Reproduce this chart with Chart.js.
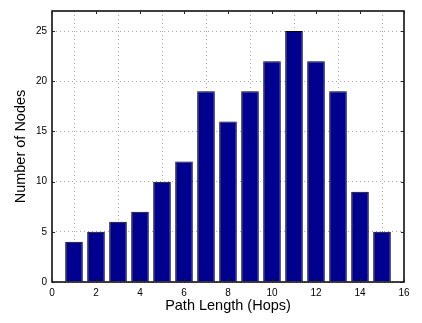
<!DOCTYPE html>
<html>
<head>
<meta charset="utf-8">
<script src="https://cdn.jsdelivr.net/npm/chart.js@4"></script>
<style>
html,body{margin:0;padding:0;background:#fff;}
#wrap{width:422px;height:323px;position:relative;}
</style>
</head>
<body>
<div id="wrap"><canvas id="c" width="422" height="323"></canvas></div>
<script>
const pathLengths = [1,2,3,4,5,6,7,8,9,10,11,12,13,14,15];
const nodeCounts = [4,5,6,7,10,12,19,16,19,22,25,22,19,9,5];
const xTicks = [0,2,4,6,8,10,12,14,16];
const yTicks = [0,5,10,15,20,25];
const xLabel = 'Path Length (Hops)';
const yLabel = 'Number of Nodes';

const frame = {
  id: 'frame',
  afterDraw(chart) {
    const {ctx, chartArea: a, scales: {x, y}} = chart;
    ctx.save();
    ctx.strokeStyle = '#000';
    ctx.lineWidth = 1.5;
    ctx.strokeRect(a.left, a.top, a.right - a.left, a.bottom - a.top);
    ctx.lineWidth = 1;
    ctx.strokeStyle = '#222';
    ctx.beginPath();
    xTicks.forEach(v => {
      const px = Math.round(x.getPixelForValue(v)) + 0.5;
      ctx.moveTo(px, a.bottom); ctx.lineTo(px, a.bottom - 3);
      ctx.moveTo(px, a.top); ctx.lineTo(px, a.top + 3);
    });
    yTicks.forEach(v => {
      const py = Math.round(y.getPixelForValue(v)) + 0.5;
      ctx.moveTo(a.left, py); ctx.lineTo(a.left + 3, py);
      ctx.moveTo(a.right, py); ctx.lineTo(a.right - 3, py);
    });
    ctx.stroke();
    ctx.restore();
  }
};

new Chart(document.getElementById('c'), {
  type: 'bar',
  data: {
    datasets: [{
      data: pathLengths.map((p, i) => ({x: p, y: nodeCounts[i]})),
      backgroundColor: '#00008F',
      borderColor: '#000',
      borderWidth: 1,
      barPercentage: 0.8,
      categoryPercentage: 1.0
    }]
  },
  options: {
    responsive: false,
    animation: false,
    layout: {padding: {top: 4, right: 18, left: 0, bottom: 0}},
    plugins: {legend: {display: false}, tooltip: {enabled: false}},
    scales: {
      x: {
        type: 'linear', min: 0, max: 16, offset: false,
        afterBuildTicks: s => { s.ticks = xTicks.map(v => ({value: v})); },
        afterFit: s => { s.height = 41; },
        ticks: {stepSize: 2, padding: 5, color: '#000', font: {family: 'Liberation Sans', size: 10}, maxRotation: 0},
        grid: {color: '#a8a8a8', lineWidth: 1, drawTicks: false},
        border: {display: false, dash: [1, 3]},
        title: {display: true, text: xLabel, color: '#000', font: {family: 'Liberation Sans', size: 14.5}, padding: {top: 0, bottom: 8}}
      },
      y: {
        type: 'linear', min: 0, max: 27,
        afterBuildTicks: s => { s.ticks = yTicks.map(v => ({value: v})); },
        afterFit: s => { s.width = 52; },
        ticks: {padding: 5, color: '#000', font: {family: 'Liberation Sans', size: 10}},
        grid: {color: '#a8a8a8', lineWidth: 1, drawTicks: false},
        border: {display: false, dash: [1, 3]},
        title: {display: true, text: yLabel, color: '#000', font: {family: 'Liberation Sans', size: 14.5}, padding: {top: 12, bottom: 0}}
      }
    }
  },
  plugins: [frame]
});
</script>
</body>
</html>
